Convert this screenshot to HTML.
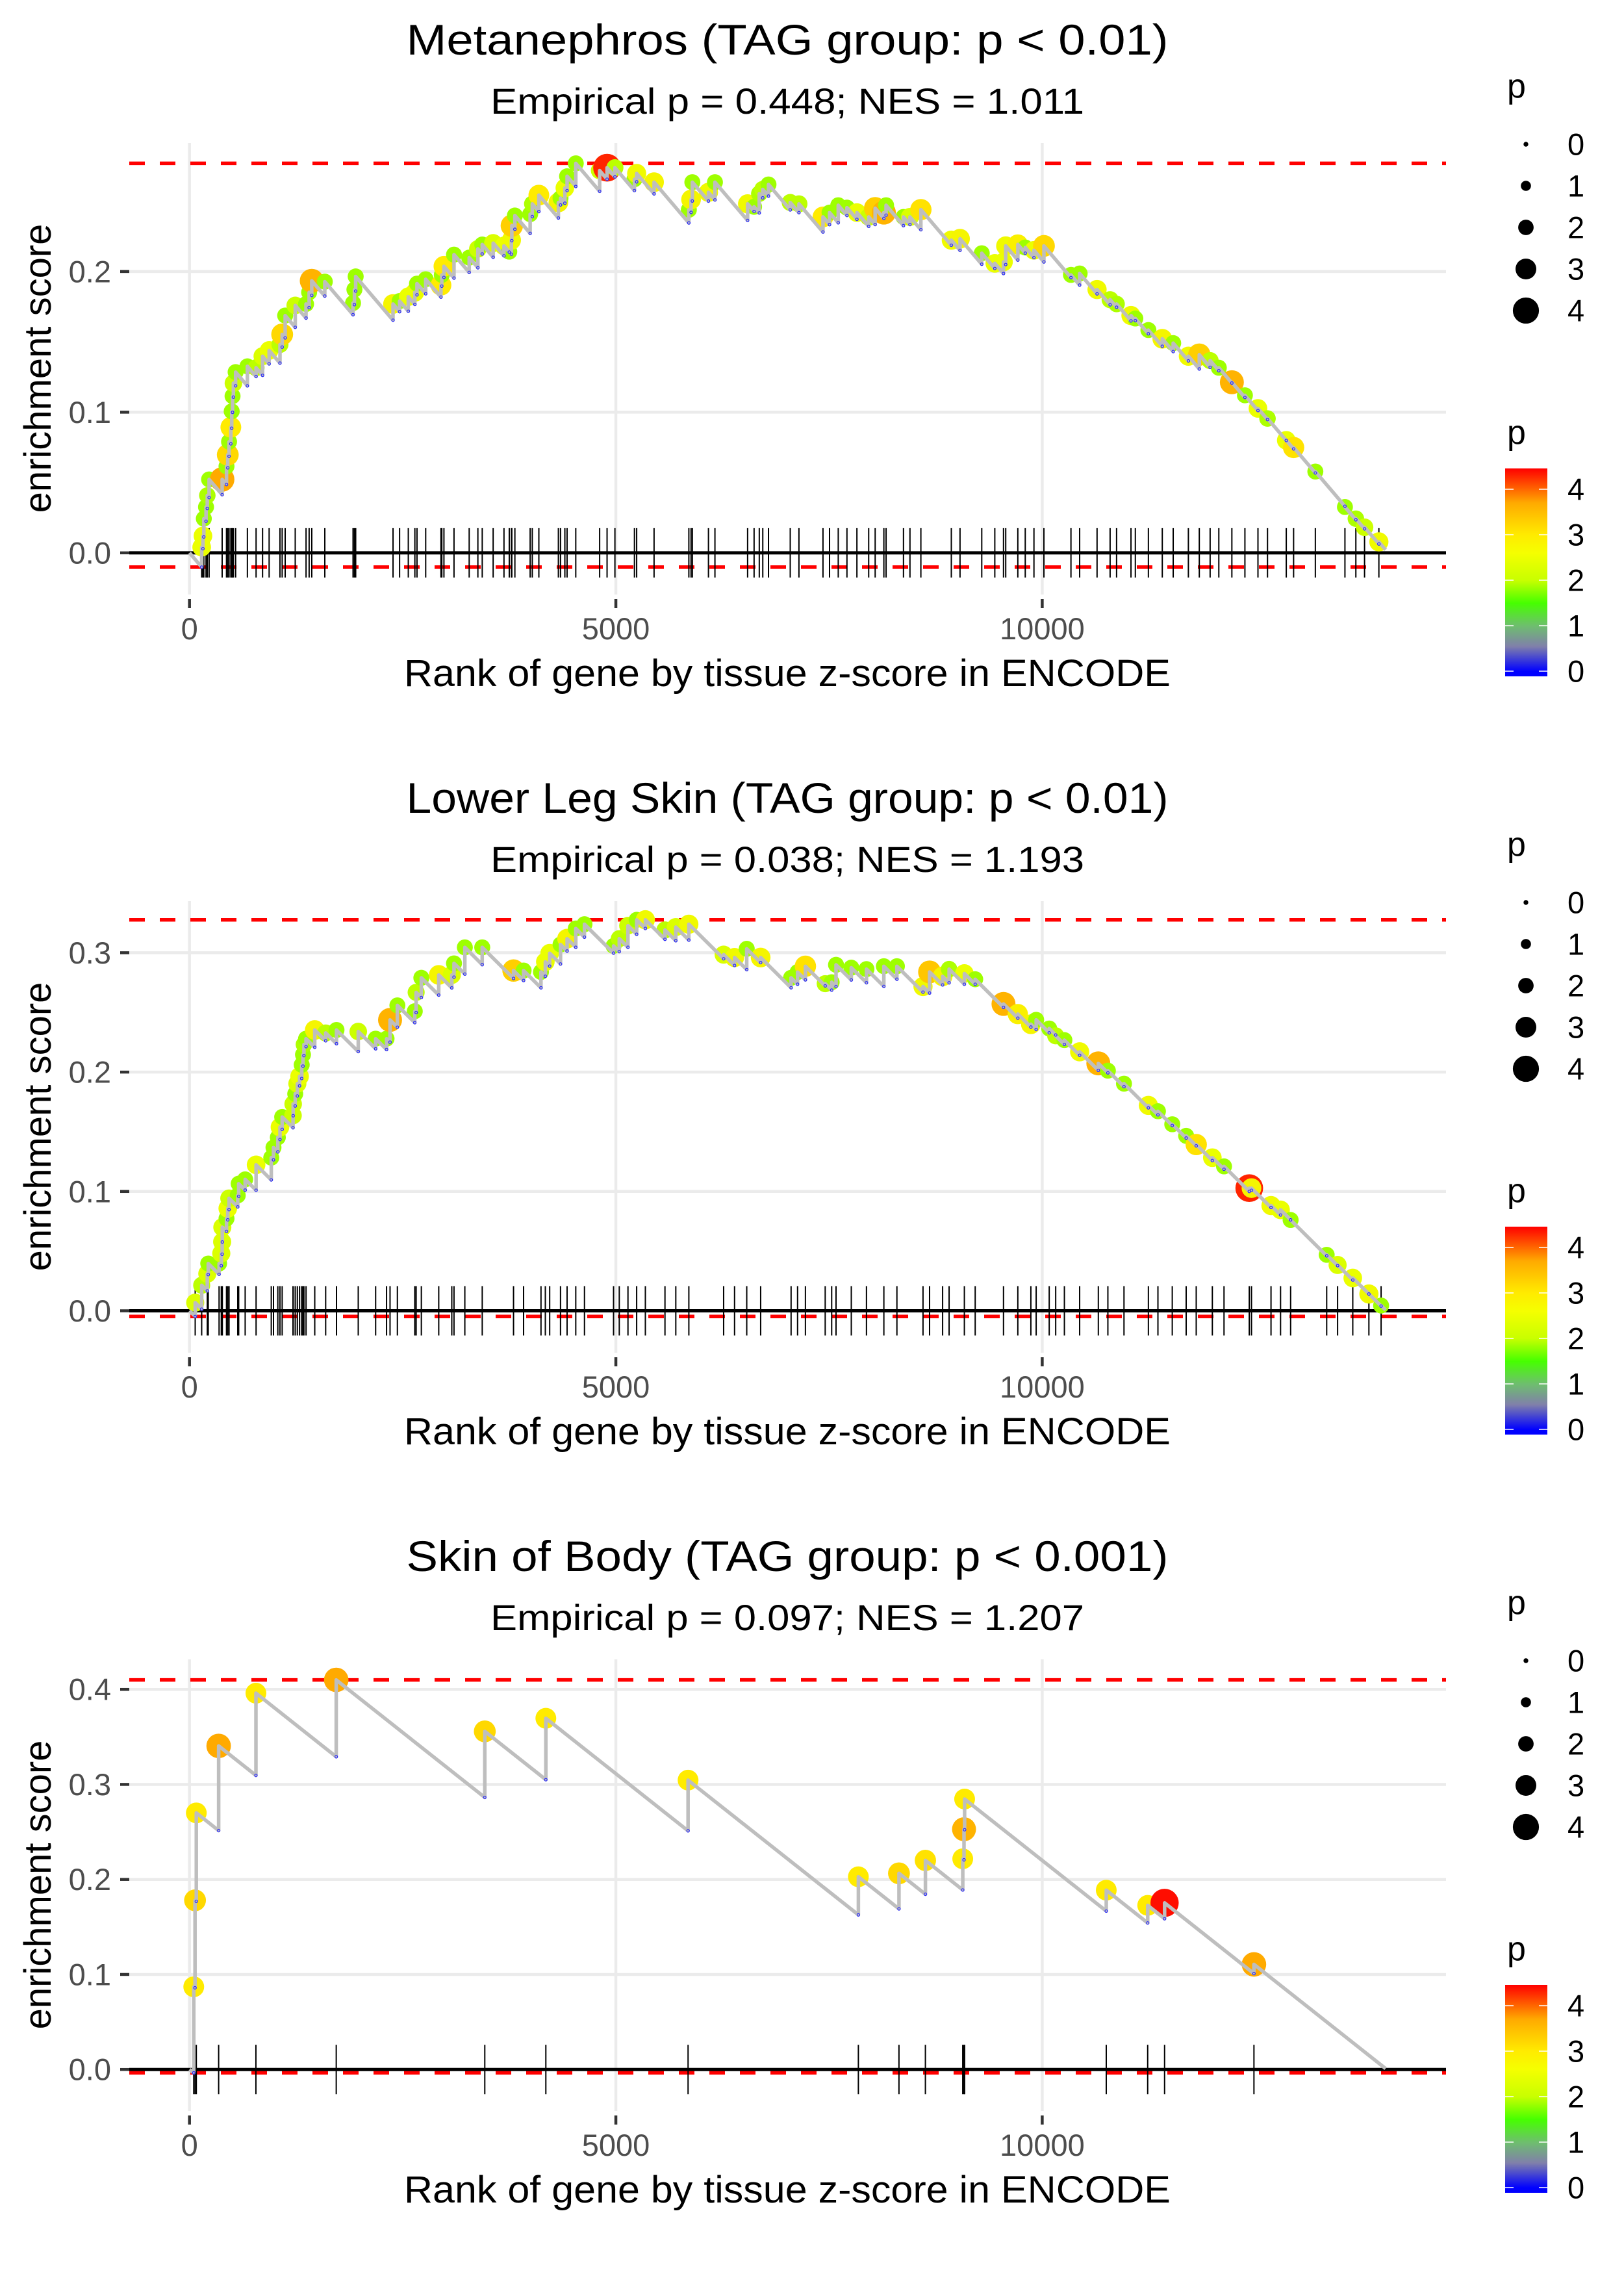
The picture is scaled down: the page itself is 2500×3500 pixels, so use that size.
<!DOCTYPE html>
<html><head><meta charset="utf-8"><title>Enrichment plots</title>
<style>html,body{margin:0;padding:0;background:#fff}svg{display:block}text{font-family:"Liberation Sans",Arial,sans-serif}</style>
</head><body>
<svg id="chart" xmlns="http://www.w3.org/2000/svg" width="2500" height="3500" viewBox="0 0 2500 3500"></svg>
<script>
// ---------- Panel 1: Metanephros ----------
const p1Ranks = [143,158,168,194,209,230,383,434,449,464,485,495,505,515,541,679,781,857,934,1061,1087,1122,1240,1367,1403,1434,1587,1918,1934,1949,2387,2464,2566,2643,2668,2770,2949,2959,2984,3102,3280,3382,3433,3561,3688,3750,3775,3780,3816,3995,4020,4097,4326,4351,4402,4428,4530,4810,4897,4989,5218,5244,5448,5856,5882,5897,6086,6162,6545,6621,6682,6723,6790,7045,7147,7429,7506,7608,7710,7827,7965,8041,8143,8169,8373,8449,8577,8934,9036,9291,9444,9546,9572,9714,9801,9903,10020,10337,10439,10643,10796,10872,11041,11092,11245,11408,11536,11714,11842,11969,12071,12224,12377,12530,12642,12862,12948,13203,13550,13678,13780,13948];
const p1ES = [0.004,0.012,0.0243,0.0326,0.0408,0.0522,0.0522,0.0615,0.0697,0.079,0.0893,0.1006,0.1114,0.1206,0.1285,0.1326,0.1316,0.1398,0.1439,0.1481,0.1553,0.1687,0.1759,0.1769,0.1852,0.1934,0.1928,0.1776,0.1872,0.1965,0.1769,0.179,0.1821,0.1852,0.1914,0.1945,0.1903,0.1976,0.2037,0.212,0.2099,0.2161,0.2192,0.2202,0.2182,0.2141,0.2223,0.2326,0.2398,0.2408,0.2481,0.2543,0.2491,0.2522,0.2594,0.2677,0.2769,0.2718,0.2738,0.2738,0.2656,0.2697,0.2635,0.2439,0.2512,0.2635,0.2563,0.2635,0.2481,0.246,0.2553,0.2584,0.2619,0.2491,0.2481,0.2388,0.2419,0.2471,0.2454,0.2419,0.2388,0.245,0.2419,0.2471,0.2388,0.2388,0.244,0.2223,0.2233,0.213,0.2058,0.2068,0.2182,0.2192,0.2171,0.2151,0.2182,0.1976,0.1986,0.1872,0.18,0.1769,0.1687,0.1666,0.1584,0.1522,0.1491,0.1398,0.1409,0.1367,0.1316,0.1213,0.112,0.1027,0.0955,0.08,0.0749,0.0578,0.0326,0.0243,0.0182,0.0078];
const p1P = [2.6,2.6,2.1,2.1,2.2,2.1,3.7,2.1,3.2,2.1,3.0,2.1,2.1,2.4,2.1,2.1,2.3,2.5,2.6,2.3,3.2,2.1,2.4,2.1,2.1,3.6,2.1,2.1,2.1,2.1,2.8,2.1,2.6,2.6,2.1,2.1,3.0,2.1,3.0,2.1,2.1,2.4,2.1,2.5,2.6,2.1,2.7,3.3,2.1,2.1,2.2,3.0,2.8,2.1,2.6,2.1,2.1,2.4,4.3,2.3,2.1,2.7,2.8,2.1,2.8,2.1,2.7,2.1,2.7,2.1,2.2,2.3,2.1,2.3,2.3,3.0,2.1,2.1,2.1,2.6,2.4,3.3,3.6,2.1,2.1,2.5,3.1,2.7,2.8,2.1,2.6,2.6,2.7,2.9,2.1,2.6,3.2,2.1,2.1,2.7,2.3,2.2,2.7,2.1,2.1,2.8,2.1,2.7,3.3,2.3,2.1,3.6,2.1,2.6,2.2,2.6,3.1,2.1,2.1,2.2,2.4,2.7];
// ---------- Panel 2: Lower Leg Skin ----------
const p2Ranks = [67,143,209,220,347,373,383,385,434,449,464,566,577,653,781,959,985,1036,1061,1087,1214,1216,1240,1265,1291,1316,1331,1342,1367,1469,1597,1724,1979,2183,2311,2352,2438,2642,2658,2719,2923,3076,3102,3229,3433,3800,3918,4122,4173,4224,4351,4428,4530,4632,4973,5040,5142,5244,5346,5576,5703,5856,6264,6392,6535,6698,7055,7131,7223,7455,7531,7582,7761,7939,8143,8296,8602,8679,8832,8908,9087,9214,9546,9714,9867,9929,10082,10158,10260,10439,10658,10770,10959,11245,11357,11525,11688,11806,11995,12132,12428,12454,12683,12795,12913,13336,13464,13642,13831,13974];
const p2ES = [0.0068,0.0214,0.0311,0.0396,0.0396,0.0481,0.0578,0.07,0.0773,0.0858,0.0943,0.0967,0.1065,0.1101,0.1223,0.1283,0.1368,0.1453,0.1539,0.1624,0.1636,0.1733,0.1818,0.1903,0.1964,0.2061,0.2146,0.2231,0.228,0.2353,0.2328,0.2353,0.234,0.228,0.228,0.2437,0.2559,0.251,0.2668,0.279,0.2814,0.2814,0.2911,0.3045,0.3045,0.2851,0.2851,0.2839,0.2924,0.2996,0.3069,0.3118,0.3203,0.3239,0.3057,0.3118,0.3227,0.3276,0.3276,0.3191,0.3215,0.3239,0.2984,0.296,0.3033,0.296,0.279,0.2838,0.2887,0.2741,0.2753,0.2899,0.2875,0.2863,0.2887,0.2887,0.2717,0.2839,0.2802,0.2863,0.2826,0.2778,0.2571,0.2486,0.2401,0.2438,0.2365,0.2304,0.2268,0.217,0.2073,0.2012,0.1903,0.1721,0.1672,0.1563,0.1466,0.1393,0.1283,0.121,0.1028,0.1028,0.0882,0.0846,0.0761,0.0469,0.0384,0.0275,0.0141,0.0044];
const p2P = [2.5,2.3,2.5,2.1,2.1,2.5,2.5,2.5,2.1,2.6,2.4,2.1,2.1,2.1,2.6,2.1,2.1,2.1,2.6,2.1,2.4,2.4,2.1,2.5,2.6,2.1,2.1,2.2,2.1,2.8,2.3,2.1,2.4,2.1,2.1,3.6,2.1,2.1,2.3,2.1,2.8,2.5,2.1,2.1,2.1,3.3,2.1,2.1,2.6,2.6,2.1,2.8,2.1,2.1,2.1,2.3,2.4,2.1,2.7,2.3,2.5,2.7,2.5,2.7,2.1,2.8,2.1,2.1,3.1,2.3,2.1,2.1,2.1,2.1,2.1,2.1,2.7,3.4,2.8,2.2,2.6,2.1,3.6,2.9,2.8,2.1,2.1,2.3,2.1,2.7,3.6,2.1,2.1,2.7,2.1,2.1,2.1,3.1,2.6,2.1,4.3,2.8,2.7,2.6,2.1,2.1,2.5,2.6,2.7,2.1];
// ---------- Panel 3: Skin of Body ----------
const p3Ranks = [50,65,80,342,779,1721,3463,4179,5847,7844,8320,8630,9068,9083,9090,10751,11237,11435,12483];
const p3ES = [0.087,0.178,0.270,0.3405,0.396,0.410,0.3558,0.3696,0.3045,0.2028,0.2064,0.220,0.2217,0.2528,0.2846,0.1887,0.1727,0.1753,0.1106];
const p3P = [3.0,3.2,3.0,3.7,3.0,3.7,3.2,3.0,3.0,3.0,3.2,3.1,3.0,3.6,3.0,3.0,3.0,4.4,3.7];
// shared
const xTickValues = [0, 5000, 10000];
const xTickLabels = ["0", "5000", "10000"];
const totalGenes = 14027;
const missRate = 0.000071;
const legendSizeValues = [0, 1, 2, 3, 4];
const titles = ["Metanephros (TAG group: p < 0.01)", "Lower Leg Skin (TAG group: p < 0.01)", "Skin of Body (TAG group: p < 0.001)"];
const subtitles = ["Empirical p = 0.448; NES = 1.011", "Empirical p = 0.038; NES = 1.193", "Empirical p = 0.097; NES = 1.207"];
const p1YTicks = [0.0, 0.1, 0.2];
const p2YTicks = [0.0, 0.1, 0.2, 0.3];
const p3YTicks = [0.0, 0.1, 0.2, 0.3, 0.4];

const NS = "http://www.w3.org/2000/svg";
const svg = document.getElementById("chart");
function mk(tag, attrs, parent) {
  const e = document.createElementNS(NS, tag);
  for (const k in attrs) e.setAttribute(k, attrs[k]);
  (parent || svg).appendChild(e);
  return e;
}
const stops = [[0,[0,0,255]],[0.55,[128,128,170]],[1.0,[110,190,110]],[1.5,[70,255,0]],[2.15,[165,255,0]],[2.6,[235,255,0]],[3.0,[255,235,0]],[3.7,[255,170,0]],[4.46,[255,0,0]]];
function colorFor(p) {
  if (p <= stops[0][0]) return "rgb(0,0,255)";
  for (let i = 1; i < stops.length; i++) {
    if (p <= stops[i][0]) {
      const a = stops[i-1], b = stops[i], t = (p - a[0]) / (b[0] - a[0]);
      const c = a[1].map((v, j) => Math.round(v + (b[1][j] - v) * t));
      return "rgb(" + c.join(",") + ")";
    }
  }
  return "rgb(255,0,0)";
}
function sizeFor(p) { return 3.7 + 4.1 * p; }
const X0 = 291.7, XS = 0.13127, PL = 199, PR = 2226;
function xScale(r) { return X0 + r * XS; }

const panels = [
  {ranks: p1Ranks, es: p1ES, p: p1P, yt: p1YTicks, off: 0, y0: 850.9, ys: 2165},
  {ranks: p2Ranks, es: p2ES, p: p2P, yt: p2YTicks, off: 1167, y0: 2017.5, ys: 1837},
  {ranks: p3Ranks, es: p3ES, p: p3P, yt: p3YTicks, off: 2334, y0: 3185.2, ys: 1462.5}
];

panels.forEach((P, pi) => {
  const g = mk("g", {});
  
  
  const off = P.off;
  const yScale = v => P.y0 - v * P.ys;
  const top = 220 + off, bottom = 915 + off;
  P.yt.forEach(v => {
    const l = mk("line", {x1: PL, x2: PR, y1: yScale(v), y2: yScale(v), stroke: "#ebebeb", "stroke-width": 4.5}, g);
    
    
  });
  xTickValues.forEach(v => {
    const l = mk("line", {x1: xScale(v), x2: xScale(v), y1: top, y2: bottom, stroke: "#ebebeb", "stroke-width": 4.5}, g);
    
    
  });
  const pts = [[0, 0]];
  const befores = [];
  let cur = 0, prevR = 0, minES = 0, maxES = 0;
  for (let i = 0; i < P.ranks.length; i++) {
    const before = cur - missRate * (P.ranks[i] - prevR);
    befores.push(before);
    pts.push([P.ranks[i], before]);
    pts.push([P.ranks[i], P.es[i]]);
    minES = Math.min(minES, before); maxES = Math.max(maxES, P.es[i]);
    cur = P.es[i]; prevR = P.ranks[i];
  }
  pts.push([totalGenes, cur - missRate * (totalGenes - prevR)]);
  [maxES, minES].forEach((v, k) => {
    const l = mk("line", {x1: PL, x2: PR, y1: yScale(v), y2: yScale(v), stroke: "#ff0000", "stroke-width": 5.5, "stroke-dasharray": "24 23"}, g);
    
    
  });
  const z = mk("line", {x1: PL, x2: PR, y1: yScale(0), y2: yScale(0), stroke: "#000", "stroke-width": 5}, g);
  
  
  P.ranks.forEach(r => {
    const l = mk("line", {x1: xScale(r), x2: xScale(r), y1: yScale(0) - 38, y2: yScale(0) + 38, stroke: "#000", "stroke-width": 2}, g);
    
    
  });
  P.ranks.forEach((r, i) => {
    const c = mk("circle", {cx: xScale(r), cy: yScale(P.es[i]), r: sizeFor(P.p[i]), fill: colorFor(P.p[i])}, g);
    
    
  });
  const d = pts.map((q, i) => (i ? "L" : "M") + xScale(q[0]).toFixed(1) + " " + yScale(q[1]).toFixed(1)).join(" ");
  const path = mk("path", {d: d, fill: "none", stroke: "#bebebe", "stroke-width": 5.5, "stroke-linejoin": "round"}, g);
  
  
  befores.forEach((b, i) => {
    const c = mk("circle", {cx: xScale(P.ranks[i]), cy: yScale(b), r: 2, fill: "none", stroke: "#2a2aff", "stroke-width": 1.2}, g);
    
    
  });
  P.yt.forEach(v => {
    const t = mk("line", {x1: 185, x2: 199, y1: yScale(v), y2: yScale(v), stroke: "#333", "stroke-width": 4.5}, g);
    
    
    const tx = mk("text", {x: 171, y: yScale(v) + 16.5, "text-anchor": "end", "font-size": 47, fill: "#4d4d4d"}, g);
    tx.textContent = v.toFixed(1);
    
    
  });
  xTickValues.forEach((v, i) => {
    const t = mk("line", {x1: xScale(v), x2: xScale(v), y1: 922 + off, y2: 936 + off, stroke: "#333", "stroke-width": 4.5}, g);
    
    
    const tx = mk("text", {x: xScale(v), y: 984 + off, "text-anchor": "middle", "font-size": 47, fill: "#4d4d4d"}, g);
    tx.textContent = xTickLabels[i];
    
    
  });
  const xt = mk("text", {x: 1212, y: 1056 + off, "text-anchor": "middle", "font-size": 58, fill: "#000", textLength: 1180, lengthAdjust: "spacingAndGlyphs"}, g);
  xt.textContent = "Rank of gene by tissue z-score in ENCODE";
  
  
  const yt = mk("text", {x: 0, y: 0, "text-anchor": "middle", "font-size": 58, fill: "#000", transform: "translate(78," + (567 + off) + ") rotate(-90)"}, g);
  yt.textContent = "enrichment score";
  
  
  const ti = mk("text", {x: 1212, y: 84 + off, "text-anchor": "middle", "font-size": 66, fill: "#000", textLength: 1173, lengthAdjust: "spacingAndGlyphs"}, g);
  ti.textContent = titles[pi];
  
  
  const st = mk("text", {x: 1212, y: 175 + off, "text-anchor": "middle", "font-size": 56, fill: "#000", textLength: 914, lengthAdjust: "spacingAndGlyphs"}, g);
  st.textContent = subtitles[pi];
  
  
  const sl = mk("text", {x: 2320, y: 150 + off, "font-size": 52, fill: "#000"}, g);
  sl.textContent = "p";
  
  
  legendSizeValues.forEach((v, i) => {
    const cy = 222 + 64 * i + off;
    const c = mk("circle", {cx: 2349, cy: cy, r: sizeFor(v), fill: "#000"}, g);
    
    
    const t = mk("text", {x: 2413, y: cy + 16.5, "font-size": 47, fill: "#000"}, g);
    t.textContent = String(v);
    
    
  });
  const cl = mk("text", {x: 2320, y: 683 + off, "font-size": 52, fill: "#000"}, g);
  cl.textContent = "p";
  
  
  const gid = "grad" + pi;
  const defs = mk("defs", {}, g);
  const lg = mk("linearGradient", {id: gid, x1: 0, y1: 1, x2: 0, y2: 0}, defs);
  const pMin = -0.11, pMax = 4.46;
  const barStops = [[0,[0,0,255]],[0.55,[128,128,170]],[1.0,[110,190,110]],[1.5,[70,255,0]],[2.0,[200,255,0]],[2.6,[245,255,0]],[3.0,[255,235,0]],[3.7,[255,170,0]],[4.46,[255,0,0]]];
  barStops.forEach(s => {
    mk("stop", {offset: ((s[0] - pMin) / (pMax - pMin)).toFixed(3), "stop-color": "rgb(" + s[1].join(",") + ")"}, lg);
  });
  const bar = mk("rect", {x: 2317, y: 721 + off, width: 65, height: 320, fill: "url(#" + gid + ")"}, g);
  
  
  legendSizeValues.forEach(v => {
    const y = 1033 - 70 * v + off;
    const a = mk("line", {x1: 2317, x2: 2330, y1: y, y2: y, stroke: "#fff", "stroke-width": 1.5}, g);
    
    
    const b = mk("line", {x1: 2369, x2: 2382, y1: y, y2: y, stroke: "#fff", "stroke-width": 1.5}, g);
    
    
    const t = mk("text", {x: 2413, y: y + 16.5, "font-size": 47, fill: "#000"}, g);
    t.textContent = String(v);
    
    
  });
});
</script>
</body></html>
